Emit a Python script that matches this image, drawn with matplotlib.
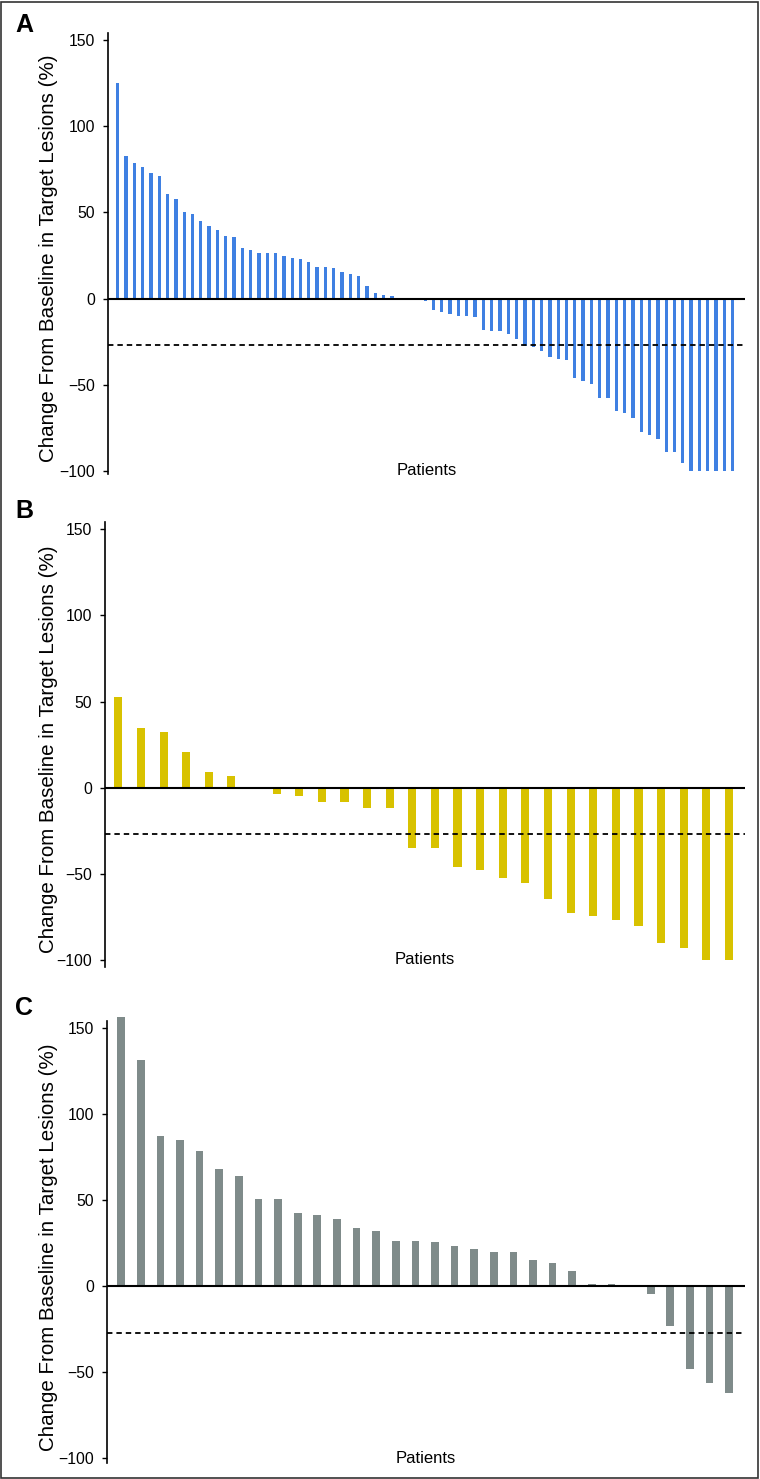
import numpy as np
import matplotlib
matplotlib.use("Agg")
import matplotlib.pyplot as plt
from matplotlib.patches import Rectangle
import matplotlib.transforms as mtransforms

plt.rcParams['font.family'] = ['Liberation Sans', 'DejaVu Sans']

# -- data: % change from baseline in target lesions, one bar per patient
a_values = [125.4, 82.6, 78.8, 76.2, 72.7, 71.4, 60.9, 58.0, 50.0, 49.0,
            45.2, 42.0, 39.7, 36.4, 36.0, 29.6, 28.3, 26.7, 26.7, 26.7,
            24.8, 23.8, 23.2, 21.5, 18.4, 18.4, 18.0, 15.3, 14.3, 13.1,
            7.5, 3.2, 2.2, 1.5, 0, 0, 0,
            -1.7, -6.4, -8.0, -9.2, -10.2, -10.2, -11.0, -18.2, -18.8, -18.8,
            -20.4, -23.4, -27.3, -27.9, -30.2, -33.9, -35.4, -35.8, -46.3, -48.1,
            -49.4, -57.6, -57.6, -65.4, -66.6, -69.5, -77.8, -79.1, -81.7, -88.9,
            -89.3, -95.5, -100, -100, -100, -100, -100, -100]
b_values = [52.4, 34.9, 32.4, 20.5, 9.1, 6.6, 0,
            -3.5, -4.9, -8.0, -8.0, -12.0, -12.0, -34.9, -34.9, -46.2, -47.9,
            -52.2, -55.1, -64.6, -72.8, -74.3, -76.8, -80.5, -89.9, -93.0, -100, -100]
c_values = [156.8, 131.4, 87.1, 85.3, 78.7, 68.4, 64.3, 50.9, 50.9, 42.9,
            41.6, 39.4, 33.8, 32.3, 26.4, 26.4, 25.8, 23.5, 21.6, 20.0,
            20.0, 15.4, 13.4, 8.7, 1.3, 1.3, 0,
            -4.3, -22.9, -48.2, -56.2, -62.2]

panel_letters = ['A', 'B', 'C']
yticks = [-100, -50, 0, 50, 100, 150]
threshold = -27
ylabel = 'Change From Baseline in Target Lesions (%)'
xlabel = 'Patients'

# -- layout (pixels) and styles
W, H = 760, 1479
panels = [
    # values, color, bar width, left px, right px, y150 px, y-100 px, ylim, xlim, letter y px, xlabel font
    (a_values, '#3f80e2', 0.40, 107.7, 745, 40.3, 470.7, (-102, 154), (-1.2, 75.48), 25,
     ['Liberation Sans']),
    (b_values, '#d8c200', 0.36, 105.0, 745, 529.3, 960.0, (-104, 154), (-0.59, 27.71), 511,
     ['Liberation Sans Narrow', 'Liberation Sans']),
    (c_values, '#7f8b8a', 0.39, 106.7, 745, 1028.3, 1458.3, (-103, 154), (-0.74, 31.81), 1008,
     ['Liberation Sans Narrow', 'Liberation Sans']),
]

fig = plt.figure(figsize=(W / 100, H / 100), dpi=100)

for (vals, color, bw, left, right, y150, y100, ylim, xlim, lety, xfont), letter in zip(panels, panel_letters):
  ppu = (y100 - y150) / 250.0
  top = y150 - (ylim[1] - 150) * ppu
  bottom = y100 + (-100 - ylim[0]) * ppu
  ax = fig.add_axes([left / W, 1 - bottom / H, (right - left) / W, (bottom - top) / H])

  x = np.arange(len(vals))
  ax.bar(x, vals, width=bw, color=color, linewidth=0, clip_on=False, zorder=2)
  ax.axhline(0, color='black', lw=1.5, zorder=3)
  ax.axhline(threshold, color='black', lw=1.3, ls=(0, (3, 2.2)), zorder=3)

  ax.set_xlim(*xlim)
  ax.set_ylim(*ylim)
  ax.set_yticks(yticks)
  ax.set_yticklabels([str(t).replace('-', '\u2212') for t in yticks])
  ax.set_xticks([])
  for s in ['top', 'right', 'bottom']:
    ax.spines[s].set_visible(False)
  ax.spines['left'].set_linewidth(1.2)
  ax.tick_params(axis='y', direction='out', length=3.8, width=1.0, pad=5.5,
                 labelsize=11.3, colors='black')
  ax.set_ylabel(ylabel, fontsize=14.8)
  ax.yaxis.set_label_coords(-(left - 58) / (right - left), 0.49)

  trans = mtransforms.blended_transform_factory(ax.transAxes, ax.transData)
  ax.text(0.5, -100, xlabel, transform=trans, ha='center', va='center', fontsize=12,
          family=xfont)

  fig.text(24 / W, 1 - lety / H, letter, fontsize=18, fontweight='bold',
           ha='center', va='center')

# -- frame around the whole figure
fig.patches.append(Rectangle((0.7 / W, 0.7 / H), (W - 2.7) / W, (H - 2.2) / H,
                             transform=fig.transFigure, fill=False,
                             edgecolor='#333333', lw=1.2))

fig.savefig('out.png', dpi=100)
